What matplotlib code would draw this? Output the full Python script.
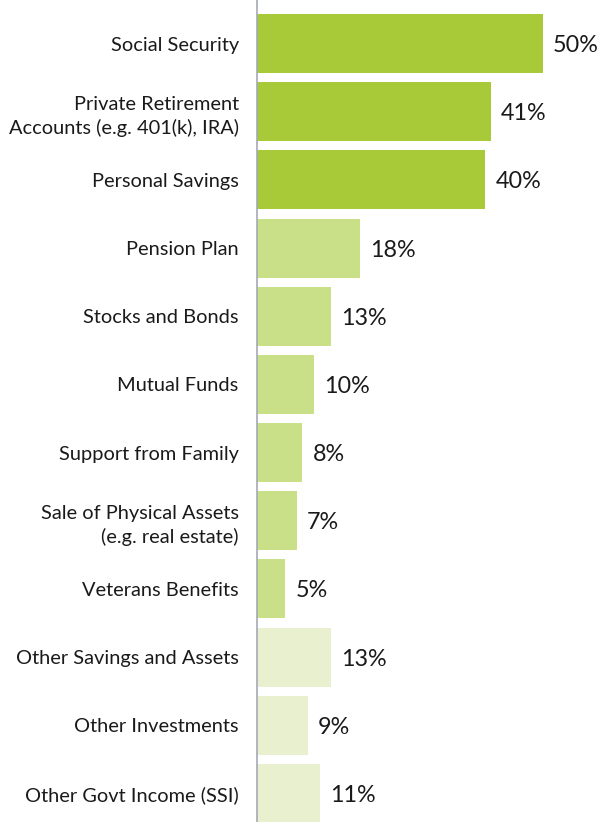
import matplotlib.pyplot as plt

plt.rcParams['font.family'] = ['Lato', 'DejaVu Sans']

categories = [
    "Social Security",
    "Private Retirement\nAccounts (e.g. 401(k), IRA)",
    "Personal Savings",
    "Pension Plan",
    "Stocks and Bonds",
    "Mutual Funds",
    "Support from Family",
    "Sale of Physical Assets\n(e.g. real estate)",
    "Veterans Benefits",
    "Other Savings and Assets",
    "Other Investments",
    "Other Govt Income (SSI)",
]
values = [50, 41, 40, 18, 13, 10, 8, 7, 5, 13, 9, 11]
groups = [0, 0, 0, 1, 1, 1, 1, 1, 1, 2, 2, 2]
group_colors = ["#a8c938", "#c9df88", "#e8f0cf"]

fig = plt.figure(figsize=(5.98, 8.22), dpi=100)
ax = fig.add_axes([0.4293, 0, 1 - 0.4293, 1])

y = list(range(len(values)))
colors = [group_colors[g] for g in groups]
ax.barh(y, values, height=0.865, color=colors)

for yi, v in zip(y, values):
    ax.annotate(f"{v}%", (v, yi), xytext=(10, -2), textcoords="offset pixels",
                va="center", ha="left", fontsize=16.8, color="#1a1a1a")

ax.set_xlim(0, 59.67)
ax.set_ylim(11.418, -0.638)
ax.set_yticks(y)
ax.set_yticklabels(categories, fontsize=14.4, color="#1a1a1a", linespacing=1.4)
ax.tick_params(axis="y", length=0, pad=13)
ax.set_xticks([])

for s in ["top", "right", "bottom"]:
    ax.spines[s].set_visible(False)
ax.spines["left"].set_color("#a3a9b5")
ax.spines["left"].set_linewidth(1.2)

fig.savefig("out.png", dpi=100)
